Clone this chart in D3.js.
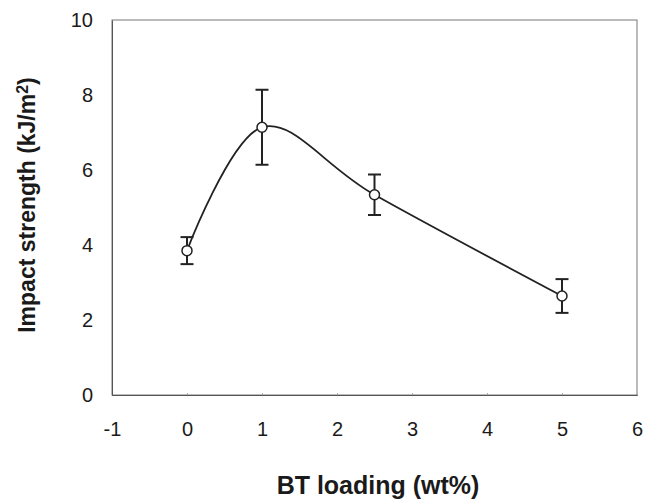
<!DOCTYPE html>
<html>
<head>
<meta charset="utf-8">
<script src="https://cdn.jsdelivr.net/npm/d3@7"></script>
<style>
  body { margin: 0; background: #fff; }
  text { font-family: "Liberation Sans", Arial, sans-serif; fill: #1a1a1a; }
</style>
</head>
<body>
<div id="chart"></div>
<script>
// data
const loading = [0, 1, 2.5, 5];
const strength = [3.85, 7.14, 5.34, 2.64];
const errors = [0.36, 1.0, 0.54, 0.45];
const xTicks = [-1, 0, 1, 2, 3, 4, 5, 6];
const yTicks = [0, 2, 4, 6, 8, 10];

var width = 647;
var height = 499;
let margin = { top: 20, right: 10, bottom: 104, left: 112 }

var svg = d3.select("#chart")
  .append("svg")
  .attr("width", width)
  .attr("height", height)

var xScale = d3.scaleLinear()
  .domain([-1, 6])
  .range([margin.left, width - margin.right]);
var yScale = d3.scaleLinear()
  .domain([0, 10])
  .range([height - margin.bottom, margin.top]);

// frame
svg.append("rect")
  .attr("x", xScale(-1))
  .attr("y", yScale(10))
  .attr("width", xScale(6) - xScale(-1))
  .attr("height", yScale(0) - yScale(10))
  .attr("fill", "none")
  .attr("stroke", "#777")
  .attr("stroke-width", 1)

// axes
function xAxis(g) {
  g.attr("transform", `translate(0, ${yScale(0)})`)
    .call(d3.axisBottom(xScale).tickValues(xTicks).tickSize(-2).tickPadding(27).tickFormat(d => String(d)))
  g.select(".domain").attr("stroke", "#555")
  g.selectAll(".tick line").attr("stroke", "#aaa")
  g.selectAll(".tick text").style("font-size", "20px").attr("fill", "#1a1a1a")
    .style("font-family", '"Liberation Sans", Arial, sans-serif')
}
function yAxis(g) {
  g.attr("transform", `translate(${xScale(-1)}, 0)`)
    .call(d3.axisLeft(yScale).tickValues(yTicks).tickSize(0).tickPadding(19))
  g.select(".domain").attr("stroke", "#555")
  g.selectAll(".tick text").style("font-size", "20px").attr("fill", "#1a1a1a")
    .style("font-family", '"Liberation Sans", Arial, sans-serif')
}
svg.append("g").call(xAxis)
svg.append("g").call(yAxis)

// axis titles
svg.append("text")
  .attr("x", 378)
  .attr("y", 494)
  .attr("text-anchor", "middle")
  .style("font-size", "25px")
  .style("font-weight", "bold")
  .text("BT loading (wt%)")

var yTitle = svg.append("text")
  .attr("transform", "translate(35, 205) rotate(-90)")
  .attr("text-anchor", "middle")
  .style("font-size", "23px")
  .style("font-weight", "bold")
yTitle.append("tspan").text("Impact strength (kJ/m")
yTitle.append("tspan").attr("dy", "-0.45em").style("font-size", "16px").text("2")
yTitle.append("tspan").attr("dy", "0.3em").text(")")

var pts = loading.map((d, i) => ({ x: d, y: strength[i], e: errors[i] }))

// smoothed line
var line = d3.line()
  .x(d => xScale(d.x))
  .y(d => yScale(d.y))
  .curve(d3.curveCardinal.tension(0))
svg.append("path")
  .datum(pts)
  .attr("d", line)
  .attr("fill", "none")
  .attr("stroke", "#222")
  .attr("stroke-width", 1.8)

// error bars
var eb = svg.append("g").attr("stroke", "#222").attr("stroke-width", 2)
eb.selectAll(".v").data(pts).enter().append("line")
  .attr("x1", d => xScale(d.x)).attr("x2", d => xScale(d.x))
  .attr("y1", d => yScale(d.y - d.e)).attr("y2", d => yScale(d.y + d.e))
eb.selectAll(".top").data(pts).enter().append("line")
  .attr("x1", d => xScale(d.x) - 6.5).attr("x2", d => xScale(d.x) + 6.5)
  .attr("y1", d => yScale(d.y + d.e)).attr("y2", d => yScale(d.y + d.e))
eb.selectAll(".bot").data(pts).enter().append("line")
  .attr("x1", d => xScale(d.x) - 6.5).attr("x2", d => xScale(d.x) + 6.5)
  .attr("y1", d => yScale(d.y - d.e)).attr("y2", d => yScale(d.y - d.e))

// markers
svg.append("g")
  .selectAll("circle")
  .data(pts)
  .enter()
  .append("circle")
  .attr("cx", d => xScale(d.x))
  .attr("cy", d => yScale(d.y))
  .attr("r", 5)
  .attr("fill", "#fff")
  .attr("stroke", "#222")
  .attr("stroke-width", 1.5)
</script>
</body>
</html>
